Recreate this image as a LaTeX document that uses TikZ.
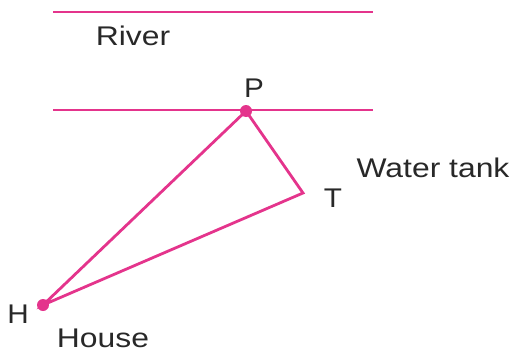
\documentclass[tikz,border=0pt]{standalone}
\usepackage{fontspec}
\setmainfont{Liberation Sans}
\definecolor{pinkline}{RGB}{228,52,140}
\definecolor{txt}{RGB}{40,40,40}
\begin{document}
\begin{tikzpicture}[x=1pt,y=-1pt,
  pline/.style={draw=pinkline,line width=2.8pt},
  lbl/.style={inner sep=0pt,anchor=base,text=txt,font=\fontsize{27}{30}\selectfont},
  dotp/.style={circle,fill=pinkline,inner sep=0pt,minimum size=12pt}]
\useasboundingbox (0,0) rectangle (516,356);
% river banks
\coordinate (a1) at (53,12);
\coordinate (a2) at (373,12);
\coordinate (b1) at (53,110);
\coordinate (b2) at (373,110);
\draw[pline] (a1) -- (a2);
\draw[pline] (b1) -- (b2);
% points
\coordinate (P) at (246,111);
\coordinate (T) at (303,193);
\coordinate (H) at (43,305);
\draw[pline,line join=miter] (H) -- (P) -- (T) -- cycle;
\node[dotp] (Pd) at (P) {};
\node[dotp] (Hd) at (H) {};
% labels
\node[lbl] (river) at (133,45) {\scalebox{1.18}[1]{River}};
\node[lbl] (Pl) at (254,97) {\scalebox{1.1}[1]{P}};
\node[lbl] (wt) at (433,177) {\scalebox{1.18}[1]{Water tank}};
\node[lbl] (Tl) at (333,207) {\scalebox{1.1}[1]{T}};
\node[lbl] (Hl) at (18,323) {\scalebox{1.1}[1]{H}};
\node[lbl] (house) at (103,347) {\scalebox{1.18}[1]{House}};
\end{tikzpicture}
\end{document}
